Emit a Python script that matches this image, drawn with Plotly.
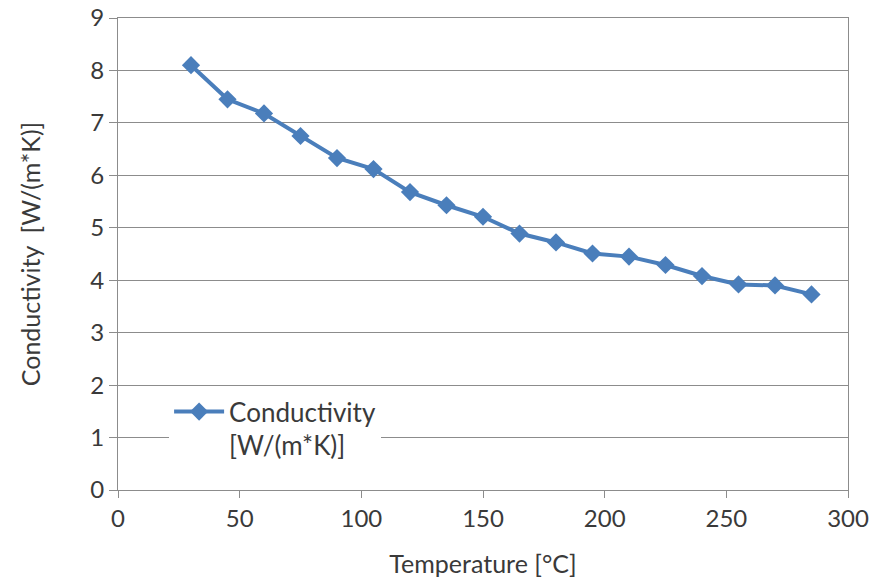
import plotly.graph_objects as go

temperature = [30, 45, 60, 75, 90, 105, 120, 135, 150, 165, 180, 195, 210, 225, 240, 255, 270, 285]
conductivity = [8.10, 7.45, 7.18, 6.75, 6.33, 6.12, 5.68, 5.43, 5.21, 4.89, 4.72, 4.51, 4.45, 4.29, 4.08, 3.92, 3.90, 3.73]
series_name = "Conductivity<br>[W/(m*K)]"
x_ticks = [0, 50, 100, 150, 200, 250, 300]
y_ticks = [0, 1, 2, 3, 4, 5, 6, 7, 8, 9]

color = "#4A7EBB"
grid = "#8C8C8C"
font_family = "Lato, 'Open Sans', sans-serif"
text_color = "#3A3A3A"

fig = go.Figure()
fig.add_trace(go.Scatter(
    x=temperature, y=conductivity, name=series_name,
    mode="lines+markers",
    line=dict(color=color, width=4),
    marker=dict(symbol="diamond", size=14, color=color),
))

fig.update_layout(
    width=871, height=580,
    margin=dict(l=118, r=23, t=18, b=90),
    paper_bgcolor="white", plot_bgcolor="white",
    font=dict(family=font_family, size=24, color=text_color),
    showlegend=True,
    legend=dict(
        x=0.07, y=0.13, xanchor="left", yanchor="middle",
        bgcolor="white", borderwidth=0, valign="top",
        font=dict(size=26, color=text_color),
        itemwidth=50,
    ),
    xaxis=dict(
        range=[0, 300], tickvals=x_ticks, showgrid=False,
        showline=True, linecolor=grid, linewidth=1, mirror=True,
        ticks="outside", ticklen=7, tickcolor=grid,
        title=dict(text="Temperature [°C]", font=dict(size=25), standoff=24),
        zeroline=False, automargin=False,
    ),
    yaxis=dict(
        range=[0, 9], tickvals=y_ticks, showgrid=True, gridcolor=grid, gridwidth=1,
        showline=True, linecolor=grid, linewidth=1, mirror=True,
        ticks="outside", ticklen=8, tickcolor=grid,
        title=dict(text="Conductivity  [W/(m*K)]", font=dict(size=25), standoff=42),
        zeroline=False, automargin=False,
    ),
)

fig.write_html("out.html")
